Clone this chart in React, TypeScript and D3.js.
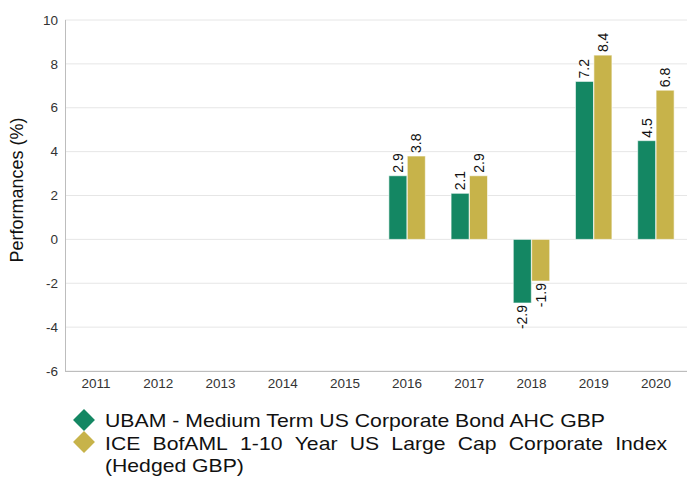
import React from "react";
import * as d3 from "d3";

const years = ["2011","2012","2013","2014","2015","2016","2017","2018","2019","2020"];
const fund: (number | null)[] = [null,null,null,null,null,2.9,2.1,-2.9,7.2,4.5];
const index: (number | null)[] = [null,null,null,null,null,3.8,2.9,-1.9,8.4,6.8];
const yTicks = [-6,-4,-2,0,2,4,6,8,10];
const seriesNames = ["UBAM - Medium Term US Corporate Bond AHC GBP", "ICE BofAML 1-10 Year US Large Cap Corporate Index", "(Hedged GBP)"];

const W = 687, H = 478;
const M = { left: 65, right: 687, top: 20, bottom: 371 };
const GREEN = "#148763";
const GOLD = "#c7b34a";
const FONT = "'Liberation Sans', Arial, sans-serif";
const LEG_SIZE = 19;

function measure(text: string, size: number): number {
  const c = document.createElement("canvas");
  const ctx = c.getContext("2d");
  if (!ctx) return text.length * size * 0.55;
  ctx.font = `${size}px 'Liberation Sans', Arial, sans-serif`;
  return ctx.measureText(text).width;
}

export default function App() {
  const x = d3.scaleBand<string>().domain(years).range([M.left, M.right]).paddingInner(0).paddingOuter(0);
  const y = d3.scaleLinear().domain([-6, 10]).range([M.bottom, M.top]);
  const inner = d3.scaleBand<string>().domain(["a","b"]).range([0, x.bandwidth()]).paddingInner(0.02).paddingOuter(0.7);
  const series = [{ key: "a", data: fund, color: GREEN }, { key: "b", data: index, color: GOLD }];

  const legX = 105;
  const line1W = 500;
  const k = line1W / measure(seriesNames[0], LEG_SIZE);
  const words = seriesNames[1].split(" ");
  const wordW = words.map(w => measure(w, LEG_SIZE) * k);
  const line2W = 667 - legX;
  const gap = (line2W - d3.sum(wordW)) / (words.length - 1);
  const wordX: number[] = [];
  let cur = legX;
  wordW.forEach(w => { wordX.push(cur); cur += w + gap; });
  const line3W = measure(seriesNames[2], LEG_SIZE) * k;
  const diamond = d3.symbol(d3.symbolSquare, 240)() ?? "";

  return (
    <svg width={W} height={H} style={{ position: "absolute", left: 0, top: 0, fontFamily: FONT }}>
      {yTicks.map(t => (
        <g key={t}>
          <line x1={M.left} x2={M.right} y1={y(t)} y2={y(t)} stroke="#e6e6e6" strokeWidth={1} />
          <text x={M.left - 7} y={y(t)} dy="0.35em" textAnchor="end" fontSize={13.5} fill="#333">{t}</text>
        </g>
      ))}
      <line x1={M.left + 0.5} x2={M.left + 0.5} y1={M.top} y2={M.bottom} stroke="#bdbdbd" />
      <line x1={M.left} x2={M.right} y1={M.bottom + 0.5} y2={M.bottom + 0.5} stroke="#bdbdbd" />
      {years.map(yr => (
        <text key={yr} x={(x(yr) ?? 0) + x.bandwidth() / 2} y={M.bottom + 17} textAnchor="middle" fontSize={13.5} fill="#333">{yr}</text>
      ))}
      <text transform={`translate(23,190) rotate(-90)`} textAnchor="middle" fontSize={18} fill="#111">Performances (%)</text>
      {series.map(s => s.data.map((v, i) => {
        if (v == null) return null;
        const bx = (x(years[i]) ?? 0) + (inner(s.key) ?? 0);
        const bw = inner.bandwidth();
        const y0 = y(0), y1 = y(v);
        const cx = bx + bw / 2;
        const pos = v >= 0;
        const ly = pos ? y1 - 3 : y1 + 2;
        return (
          <g key={s.key + i}>
            <rect x={bx} y={Math.min(y0, y1)} width={bw} height={Math.abs(y1 - y0)} fill={s.color} stroke="#ffffff" strokeOpacity={0.6} strokeWidth={1} />
            <text transform={`translate(${cx + 5},${ly}) rotate(-90)`} textAnchor={pos ? "start" : "end"} fontSize={14} fill="#111">{v.toFixed(1)}</text>
          </g>
        );
      }))}
      <g fill="#111" fontSize={LEG_SIZE}>
        <path d={diamond} transform="translate(84,420) rotate(45)" fill={GREEN} />
        <text x={legX} y={427} textLength={line1W} lengthAdjust="spacingAndGlyphs">{seriesNames[0]}</text>
        <path d={diamond} transform="translate(84,442) rotate(45)" fill={GOLD} />
        {words.map((w, i) => (
          <text key={i} x={wordX[i]} y={450} textLength={wordW[i]} lengthAdjust="spacingAndGlyphs">{w}</text>
        ))}
        <text x={legX} y={472} textLength={line3W} lengthAdjust="spacingAndGlyphs">{seriesNames[2]}</text>
      </g>
    </svg>
  );
}
